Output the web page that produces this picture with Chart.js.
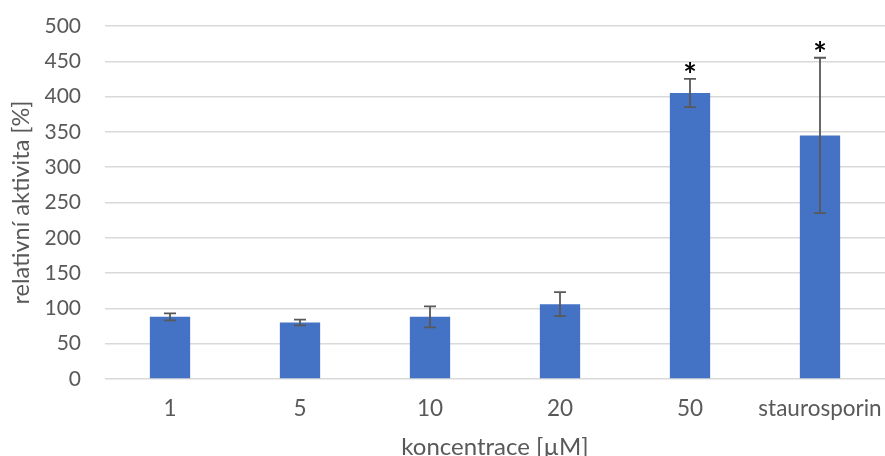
<!DOCTYPE html>
<html>
<head>
<meta charset="utf-8">
<script src="https://cdn.jsdelivr.net/npm/chart.js@4"></script>
<style>
html,body{margin:0;padding:0;background:#fff;}
#c{display:block;}
</style>
</head>
<body>
<canvas id="c" width="885" height="456"></canvas>
<script>
const categories = ['1', '5', '10', '20', '50', 'staurosporin'];
const values = [88, 80, 88, 106, 405, 345];
const errors = [5, 4, 15, 17, 20, 110];
const significance = ['', '', '', '', '*', '*'];
const yTicks = [0, 50, 100, 150, 200, 250, 300, 350, 400, 450, 500];

const FONT = "Lato, 'Open Sans', sans-serif";
const TEXT = '#595959';

const errorBarPlugin = {
  id: 'errorBars',
  afterDatasetsDraw(chart) {
    const ctx = chart.ctx;
    const meta = chart.getDatasetMeta(0);
    const ys = chart.scales.y;
    ctx.save();
    meta.data.forEach((bar, i) => {
      const x = bar.x;
      const top = ys.getPixelForValue(values[i] + errors[i]);
      const bot = ys.getPixelForValue(values[i] - errors[i]);
      ctx.strokeStyle = '#595959';
      ctx.lineWidth = 1.8;
      ctx.beginPath();
      ctx.moveTo(x, top); ctx.lineTo(x, bot);
      ctx.moveTo(x - 6, top); ctx.lineTo(x + 6, top);
      ctx.moveTo(x - 6, bot); ctx.lineTo(x + 6, bot);
      ctx.stroke();
      if (significance[i]) {
        ctx.fillStyle = '#000';
        ctx.font = "bold 32px " + FONT;
        ctx.textAlign = 'center';
        ctx.textBaseline = 'alphabetic';
        ctx.fillText(significance[i], x, top + 8);
      }
    });
    ctx.restore();
  }
};

new Chart(document.getElementById('c'), {
  type: 'bar',
  data: {
    labels: categories,
    datasets: [{
      data: values,
      backgroundColor: '#4472C4',
      borderWidth: 0,
      barPercentage: 0.31,
      categoryPercentage: 1.0
    }]
  },
  options: {
    responsive: false,
    animation: false,
    layout: { padding: 0 },
    plugins: { legend: { display: false }, tooltip: { enabled: false } },
    scales: {
      x: {
        afterFit(scale) { scale.height = 77; scale.paddingLeft = 0; scale.paddingRight = 0; },
        grid: { display: false, drawTicks: false },
        border: { display: false },
        ticks: { color: TEXT, font: { family: FONT, size: 22.5 }, padding: 16, maxRotation: 0, autoSkip: false },
        title: { display: true, text: 'koncentrace [µM]', color: TEXT, font: { family: FONT, size: 24, lineHeight: 1.0 }, padding: { top: 11, bottom: -3 } }
      },
      y: {
        min: 0, max: 500,
        afterBuildTicks(scale) { scale.ticks = yTicks.map(v => ({ value: v })); },
        afterFit(scale) { scale.width = 105; scale.paddingTop = 26; scale.paddingBottom = 0; },
        grid: { color: '#d9d9d9', lineWidth: 1.5, drawTicks: false },
        border: { display: false },
        ticks: { color: TEXT, font: { family: FONT, size: 21 }, padding: 24 },
        title: { display: true, text: 'relativní aktivita [%]', color: TEXT, font: { family: FONT, size: 23.5, lineHeight: 1.0 }, padding: { top: 10, bottom: 0 } }
      }
    }
  },
  plugins: [errorBarPlugin]
});
</script>
</body>
</html>
